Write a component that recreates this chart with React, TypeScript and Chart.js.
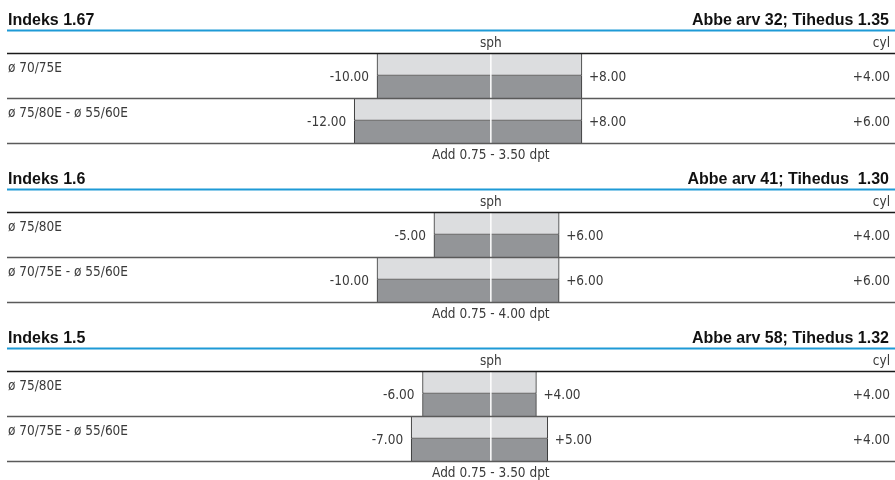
import React, { useEffect, useRef } from 'react';
import { Chart, registerables } from 'chart.js';

Chart.register(...registerables);

const headings = ['Indeks 1.67', 'Indeks 1.6', 'Indeks 1.5'];
const properties = ['Abbe arv 32; Tihedus 1.35', 'Abbe arv 41; Tihedus  1.30', 'Abbe arv 58; Tihedus 1.32'];
const rowLabels = [
  ['ø 70/75E', 'ø 75/80E - ø 55/60E'],
  ['ø 75/80E', 'ø 70/75E - ø 55/60E'],
  ['ø 75/80E', 'ø 70/75E - ø 55/60E'],
];
const sphMin = [
  [-10, -12],
  [-5, -10],
  [-6, -7],
];
const sphMax = [
  [8, 8],
  [6, 6],
  [4, 5],
];
const cylMax = [
  [4, 6],
  [4, 6],
  [4, 4],
];
const addRanges = ['Add 0.75 - 3.50 dpt', 'Add 0.75 - 4.00 dpt', 'Add 0.75 - 3.50 dpt'];
const sphTitle = 'sph';
const cylTitle = 'cyl';

const BODY_FONT = '13.5px "DejaVu Sans Condensed", "Liberation Sans", sans-serif';
const HEAD_FONT = 'bold 16px "Liberation Sans", Arial, sans-serif';
const TEXT = '#3a3a3a';
const SECTION_STEP = 159;
const CANVAS_H = 162;

const fmt = (v: number) => (v > 0 ? '+' : '') + v.toFixed(2);

function Section({ idx }: { idx: number }) {
  const ref = useRef<HTMLCanvasElement | null>(null);
  useEffect(() => {
    if (!ref.current) return;
    const labels = rowLabels[idx];
    const ranges = labels.map((_, i) => [sphMin[idx][i], sphMax[idx][i]]);
    const overlay = {
      id: 'overlay' + idx,
      afterDatasetsDraw(chart: any) {
        const ctx = chart.ctx as CanvasRenderingContext2D;
        const xs = chart.scales.x;
        const ys = chart.scales.y;
        const area = chart.chartArea;
        const W = chart.width;
        const zero = xs.getPixelForValue(0);
        ctx.save();
        // white zero line
        ctx.strokeStyle = '#ffffff';
        ctx.lineWidth = 1.5;
        ctx.beginPath();
        ctx.moveTo(zero, area.top);
        ctx.lineTo(zero, area.bottom);
        ctx.stroke();
        // row separators
        const n = labels.length;
        const band = (area.bottom - area.top) / n;
        for (let i = 0; i <= n; i++) {
          const y = i === n ? area.bottom : ys.getPixelForValue(i) - band / 2;
          ctx.strokeStyle = i === 0 ? '#1a1a1a' : '#5a5a5a';
          ctx.lineWidth = 1.5;
          ctx.beginPath();
          ctx.moveTo(7, Math.round(y) + 0.5);
          ctx.lineTo(W, Math.round(y) + 0.5);
          ctx.stroke();
        }
        // heading
        ctx.fillStyle = '#111111';
        ctx.font = HEAD_FONT;
        ctx.textBaseline = 'alphabetic';
        ctx.textAlign = 'left';
        ctx.fillText(headings[idx], 8, 25);
        ctx.textAlign = 'right';
        ctx.fillText(properties[idx], 889, 25);
        ctx.strokeStyle = '#1e9ad6';
        ctx.lineWidth = 2;
        ctx.beginPath();
        ctx.moveTo(7, 30.5);
        ctx.lineTo(W, 30.5);
        ctx.stroke();
        // column titles
        ctx.fillStyle = TEXT;
        ctx.font = BODY_FONT;
        ctx.textAlign = 'center';
        ctx.fillText(sphTitle, zero, 47);
        ctx.textAlign = 'right';
        ctx.fillText(cylTitle, 890, 47);
        // rows
        labels.forEach((lab, i) => {
          const c = ys.getPixelForValue(i);
          const top = c - band / 2;
          ctx.textBaseline = 'alphabetic';
          ctx.textAlign = 'left';
          ctx.fillText(lab, 8, top + 18.5);
          ctx.textBaseline = 'middle';
          ctx.textAlign = 'right';
          ctx.fillText(fmt(sphMin[idx][i]), xs.getPixelForValue(sphMin[idx][i]) - 8, c + 1.5);
          ctx.textAlign = 'left';
          ctx.fillText(fmt(sphMax[idx][i]), xs.getPixelForValue(sphMax[idx][i]) + 7, c + 1.5);
          ctx.textAlign = 'right';
          ctx.fillText(fmt(cylMax[idx][i]), 890, c + 1.5);
        });
        // add range
        ctx.textBaseline = 'alphabetic';
        ctx.textAlign = 'center';
        ctx.fillText(addRanges[idx], zero, area.bottom + 16);
        ctx.restore();
      },
    };
    const chart = new Chart(ref.current, {
      type: 'bar',
      data: {
        labels,
        datasets: [
          {
            data: ranges,
            backgroundColor: '#dcdddf',
            borderColor: '#333333',
            borderWidth: { top: 0, left: 1, right: 1, bottom: 1 },
            borderSkipped: false,
            categoryPercentage: 1,
            barPercentage: 1,
          },
          {
            data: ranges,
            backgroundColor: '#939598',
            borderColor: '#333333',
            borderWidth: { top: 0, left: 1, right: 1, bottom: 0 },
            borderSkipped: false,
            categoryPercentage: 1,
            barPercentage: 1,
          },
        ],
      } as any,
      options: {
        indexAxis: 'y',
        animation: false,
        responsive: false,
        maintainAspectRatio: false,
        layout: { padding: { left: 7, right: 0, top: 53, bottom: CANVAS_H - 143 } },
        plugins: { legend: { display: false }, tooltip: { enabled: false } },
        scales: {
          x: { type: 'linear', min: -42.5, max: 35.5, display: false },
          y: { type: 'category', display: false, offset: true },
        },
      } as any,
      plugins: [overlay],
    });
    return () => chart.destroy();
  }, [idx]);
  return (
    <canvas
      ref={ref}
      width={895}
      height={CANVAS_H}
      style={{ display: 'block', position: 'absolute', left: 0, top: idx * SECTION_STEP, width: 895, height: CANVAS_H }}
    />
  );
}

export default function App() {
  return (
    <div style={{ position: 'absolute', left: 0, top: 0, width: 895, height: 480, background: '#ffffff', overflow: 'hidden' }}>
      <Section idx={0} />
      <Section idx={1} />
      <Section idx={2} />
    </div>
  );
}
